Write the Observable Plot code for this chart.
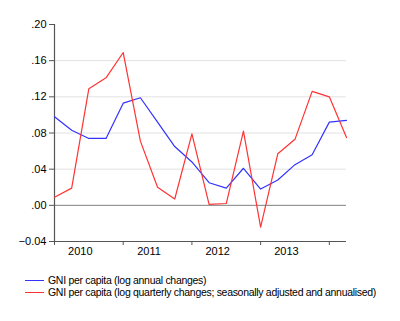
<!DOCTYPE html>
<html>
<head>
<meta charset="utf-8">
<script src="https://cdn.jsdelivr.net/npm/d3@7"></script>
<script src="https://cdn.jsdelivr.net/npm/@observablehq/plot@0.6"></script>
<style>
  body { margin: 0; background: #fff; font-family: "Liberation Sans", Arial, sans-serif; }
  #legend { font-size: 10.5px; letter-spacing: -0.3px; color: #000; margin-left: 25px; margin-top: 9px; line-height: 12px; white-space: nowrap; }
  .item { display: flex; align-items: center; }
  .sw { width: 19px; height: 0; border-top: 1.2px solid; margin-right: 4px; flex: none; }
</style>
</head>
<body>
<div id="chart"></div>
<div id="legend"></div>
<script>
const years = ["2010", "2011", "2012", "2013"];
const quarterIdx = d3.range(18); // 2010Q1 .. 2014Q2
const annualChanges = [0.098, 0.083, 0.074, 0.074, 0.113, 0.119, 0.092, 0.065, 0.048, 0.025, 0.019, 0.041, 0.018, 0.028, 0.045, 0.056, 0.092, 0.094];
const quarterlyChanges = [0.009, 0.019, 0.129, 0.141, 0.169, 0.071, 0.020, 0.007, 0.079, 0.001, 0.002, 0.082, -0.024, 0.057, 0.073, 0.126, 0.120, 0.075];
const yTicks = [-0.04, 0.00, 0.04, 0.08, 0.12, 0.16, 0.20];
const gridTicks = [0.04, 0.08, 0.12, 0.16];
const seriesNames = ["GNI per capita (log annual changes)", "GNI per capita (log quarterly changes; seasonally adjusted and annualised)"];
const colors = ["#3333ff", "#ff3333"];

const annual = quarterIdx.map((q, i) => ({q, v: annualChanges[i]}));
const quarterly = quarterIdx.map((q, i) => ({q, v: quarterlyChanges[i]}));
const yearTicks = years.map((y, i) => i * 4).concat([16]);
const yearLabelPos = years.map((y, i) => i * 4 + 1.5);

const fmt = v => d3.format(".2f")(v).replace(/^(-?)0\./, "$1.");

const plot = Plot.plot({
  width: 400,
  height: 265,
  marginLeft: 54,
  marginRight: 54,
  marginTop: 24,
  marginBottom: 24,
  style: {fontFamily: "'Liberation Sans', Arial, sans-serif", fontSize: "11px", color: "#000", background: "#fff"},
  x: {domain: [0, 17]},
  y: {domain: [-0.04, 0.20]},
  marks: [
    Plot.ruleY(gridTicks, {stroke: "#e2e2e2", strokeWidth: 1}),
    Plot.ruleY([0], {stroke: "#808080", strokeWidth: 1}),
    Plot.axisY({ticks: yTicks, tickFormat: fmt, tickSize: 5, tickPadding: 3, stroke: "#555", label: null}),
    Plot.axisX({ticks: yearTicks, tickFormat: () => "", tickSize: 4, stroke: "#555", label: null}),
    Plot.axisX({ticks: yearLabelPos, tickFormat: (d, i) => years[i], tickSize: 0, tickPadding: 6, label: null}),
    Plot.ruleX([0], {stroke: "#555", strokeWidth: 1.2}),
    Plot.ruleY([-0.04], {stroke: "#555", strokeWidth: 1.2}),
    Plot.line(annual, {x: "q", y: "v", stroke: colors[0], strokeWidth: 1.2}),
    Plot.line(quarterly, {x: "q", y: "v", stroke: colors[1], strokeWidth: 1.2})
  ]
});
document.getElementById("chart").appendChild(plot);

const legend = document.getElementById("legend");
seriesNames.forEach((name, i) => {
  const row = document.createElement("div");
  row.className = "item";
  const sw = document.createElement("span");
  sw.className = "sw";
  sw.style.borderTopColor = colors[i];
  row.appendChild(sw);
  const t = document.createElement("span");
  t.textContent = name;
  row.appendChild(t);
  legend.appendChild(row);
});
</script>
</body>
</html>
